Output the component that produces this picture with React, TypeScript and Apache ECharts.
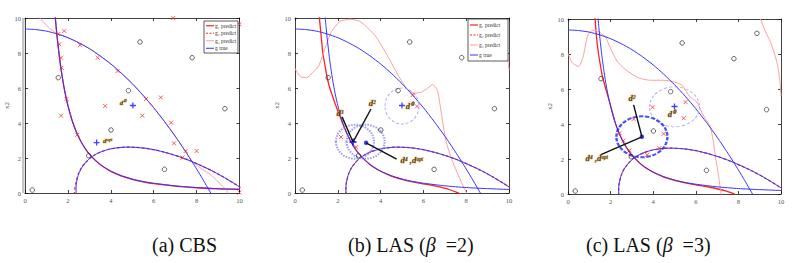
import React, { useEffect, useRef } from "react";
import * as echarts from "echarts";

const legendNames = ["g\u2081 predict", "g\u2082 predict", "g\u2083 predict", "g true"];
// caption pieces: [before β, β, after β]
const captionParts = [["(a) CBS", "", ""], ["(b) LAS (", "β", "  =2)"], ["(c) LAS (", "β", "  =3)"]];

// true constraint boundaries (blue)
const g1True = [[1.41,10.06],[1.45,9.51],[1.5,8.89],[1.6,7.81],[1.7,6.92],[1.8,6.17],[1.9,5.54],[2,5],[2.2,4.13],[2.4,3.47],[2.6,2.96],[2.8,2.55],[3,2.22],[3.3,1.84],[3.6,1.54],[4,1.25],[4.5,0.99],[5,0.8],[5.5,0.66],[6,0.56],[7,0.41],[8,0.31],[9,0.25],[10,0.2]];
const g2True = [[2.39,-0.1],[2.38,0.05],[2.38,0.31],[2.39,0.51],[2.42,0.71],[2.5,1.08],[2.63,1.42],[2.81,1.72],[3.02,1.98],[3.28,2.2],[3.58,2.37],[3.92,2.5],[4.29,2.58],[4.69,2.62],[5.13,2.61],[5.58,2.56],[6.07,2.46],[6.56,2.31],[7.08,2.12],[7.6,1.89],[8.13,1.61],[8.67,1.3],[9.2,0.95],[9.73,0.56],[10.04,0.32]];
const g3True = [[0,9.375],[0.5,9.34],[1,9.25],[1.5,9.09],[2,8.875],[2.5,8.59],[3,8.25],[3.5,7.84],[4,7.375],[4.5,6.84],[5,6.25],[5.5,5.59],[6,4.875],[6.5,4.09],[7,3.25],[7.5,2.34],[8,1.375],[8.3,0.76],[8.5,0.34],[8.66,0],[8.7,-0.09]];

// (a) CBS predictions
const g1PredA = [[1.41,10.06],[1.45,9.51],[1.5,8.89],[1.6,7.81],[1.7,6.92],[1.8,6.17],[1.9,5.54],[2,5],[2.2,4.13],[2.4,3.47],[2.6,2.96],[2.8,2.55],[3,2.22],[3.3,1.84],[3.6,1.54],[4,1.24],[4.5,0.97],[5,0.78],[5.5,0.64],[6,0.53],[7,0.39],[8,0.3],[9,0.24],[10,0.22]];
const g2PredA = [[2.31,-0.1],[2.31,0.05],[2.33,0.31],[2.36,0.51],[2.4,0.71],[2.48,1.08],[2.62,1.42],[2.81,1.72],[3.02,1.98],[3.28,2.2],[3.58,2.37],[3.92,2.5],[4.29,2.58],[4.69,2.62],[5.13,2.61],[5.58,2.56],[6.07,2.46],[6.56,2.31],[7.08,2.12],[7.6,1.89],[8.13,1.61],[8.67,1.3],[9.2,0.95],[9.73,0.56],[10.04,0.32]];
const g3PredA = [[0.6,10.1],[0.8,9.85],[1,9.6],[1.2,9.35],[1.5,9.12],[2,8.88],[2.5,8.59],[3,8.25],[3.5,7.84],[4,7.375],[4.5,6.84],[5,6.25],[5.5,5.59],[6,4.875],[6.5,4.09],[7,3.25],[7.5,2.34],[7.8,1.8],[8.1,1.5],[8.4,1.25],[8.7,1.0],[8.95,0.7],[9.2,0.4],[9.4,0.15],[9.5,-0.05]];

// (b) LAS beta=2 predictions
const g1PredB = [[1.12,10.2],[1.14,10],[1.22,9],[1.3,8],[1.4,7.3],[1.48,6.74],[1.6,6.1],[1.75,5.55],[1.87,5.12],[2.0,4.7],[2.2,4.05],[2.4,3.47],[2.6,2.96],[2.8,2.55],[3,2.22],[3.5,1.63],[4,1.24],[4.5,0.97],[5,0.78],[5.5,0.63],[6,0.52],[6.4,0.44],[6.8,0.33],[7.2,0.2],[7.6,0.02],[7.7,-0.05]];
const g2PredB = [[2.38,-0.1],[2.38,0.05],[2.38,0.31],[2.39,0.51],[2.42,0.71],[2.5,1.08],[2.63,1.42],[2.81,1.72],[3.02,1.98],[3.28,2.2],[3.58,2.37],[3.92,2.5],[4.29,2.58],[4.69,2.62],[5.13,2.61],[5.58,2.56],[6.07,2.46],[6.56,2.31],[7.08,2.12],[7.6,1.89],[8.13,1.61],[8.67,1.3],[9.2,0.95],[9.73,0.56],[10.04,0.32]];
const g3PredB = [[0,7.12],[0.15,6.8],[0.31,6.62],[0.55,6.6],[0.8,6.85],[1.09,7.22],[1.4,8.26],[1.71,9.23],[2.1,9.8],[2.57,9.93],[3.04,9.8],[3.74,9.0],[4.36,7.76],[4.83,6.71],[5.22,5.96],[5.53,5.7],[5.9,5.76],[6.2,6.0],[6.43,6.2],[6.66,5.84],[6.82,4.7],[7.05,3.0],[7.3,2.0],[7.6,1.1],[7.8,0.55],[8.02,0],[8.06,-0.1]];
const g3PredB2 = [[9.88,8.2],[9.95,7.6],[10,7.0]];

// (c) LAS beta=3 predictions
const g1PredC = [[1.24,10.2],[1.27,10],[1.32,9.2],[1.4,8.3],[1.5,7.5],[1.62,6.7],[1.8,5.9],[2,5.05],[2.2,4.15],[2.4,3.47],[2.6,2.96],[2.8,2.55],[3,2.22],[3.5,1.63],[4,1.24],[4.5,0.97],[5,0.78],[5.5,0.64],[6,0.52],[6.6,0.4],[7,0.3],[7.4,0.18],[7.78,0.02],[7.85,-0.05]];
const g2PredC = [[2.38,-0.1],[2.38,0.05],[2.38,0.31],[2.39,0.51],[2.42,0.71],[2.5,1.08],[2.63,1.42],[2.81,1.72],[3.02,1.98],[3.28,2.2],[3.58,2.37],[3.92,2.5],[4.29,2.58],[4.69,2.62],[5.13,2.61],[5.58,2.56],[6.07,2.46],[6.56,2.31],[7.08,2.12],[7.6,1.89],[8.13,1.61],[8.67,1.3],[9.2,0.95],[9.73,0.56],[10.04,0.32]];
const g3PredC = [[0,8.04],[0.2,7.5],[0.5,7.28],[0.7,7.8],[0.93,9.08],[1.15,9.35],[1.36,9.33],[1.76,8.97],[1.99,8.33],[2.3,7.6],[2.61,7.2],[3.0,6.85],[3.4,6.6],[3.87,6.5],[4.49,6.5],[5.0,6.4],[5.36,6.2],[5.74,5.53],[6.06,5.25],[6.3,4.6],[6.5,4.2],[6.68,3.86],[6.81,3.1],[6.92,2.16],[7.07,1.02],[7.18,0.07],[7.2,-0.1]];
const g3PredC2 = [[8.95,10.2],[9.03,10],[9.3,9.2],[9.5,8.7],[9.7,8.0],[9.85,7.3],[9.95,6.4],[10,5.6]];

// sampled points
const initialPoints = [[0.34,0.17],[1.55,6.59],[5.36,8.63],[7.79,7.73],[9.32,4.82],[4.82,5.85],[4.01,3.6],[2.97,2.13],[6.5,1.35]];
const extraPointC = [[8.87,9.18]];
const redA = [[6.91,10],[10,9.64],[1.83,9.26],[1.55,9.08],[1.6,8.5],[2.56,8.45],[1.68,7.73],[3.39,7.73],[1.71,7.16],[4.32,6.97],[1.94,5.37],[5.64,5.37],[6.33,5.46],[3.74,4.97],[1.68,4.42],[5.47,4.42],[6.81,4.02],[2.44,3.33],[6.95,2.84],[7.49,2.4],[8.0,2.4],[7.34,2.02],[10,0.03]];
const redB = [[2.15,3.2],[5.5,5.6],[5.7,4.95],[2.85,2.62]];
const redC = [[3.97,4.96],[5.52,5.25],[5.43,4.33],[3.08,4.28],[2.42,3.48],[2.89,2.49],[3.71,2.24],[4.29,2.62],[4.49,3.44],[2.6,3.05]];
const plusA = [[5.03,5.0],[3.34,2.88]];
const plusB = [[5.0,5.0]];
const plusBoldB = [[2.71,2.91]];
const plusC = [[5.0,5.0]];
const dotB = [[3.32,2.87]];
const dotC = [[3.47,3.27]];

// search-region centres
const regionLightB = [[5.0,4.97]];
const regionDotB = [[2.8,2.93],[3.3,2.93]];
const regionLightC = [[5.0,4.98]];
const regionDarkC = [[3.47,3.27]];

// leader lines
const leadersB = [[[2.2,4.35],[2.71,2.91]],[[3.55,4.8],[2.71,2.91]],[[3.32,2.87],[4.75,1.94]]];
const leadersC = [[[3.47,3.27],[3.08,5.09]],[[3.47,3.27],[1.52,2.24]]];

// labels
const labelsA = [{ name: "d\u2070", value: [4.55,5.12] }, { name: "d\u1d52\u1d56\u1d57", value: [3.85,2.95] }];
const labelsB = [{ name: "d\u00b3", value: [2.1,4.6] }, { name: "d\u00b2", value: [3.6,5.12] }, { name: "d\u2070", value: [5.35,4.97] }, { name: "d\u2074 ,d\u1d52\u1d56\u1d57", value: [5.45,1.9] }];
const labelsC = [{ name: "d\u00b2", value: [3.0,5.5] }, { name: "d\u2070", value: [4.85,4.6] }, { name: "d\u2074 ,d\u1d52\u1d56\u1d57", value: [1.35,2.05] }];

const X_SYM = "path://M0,0L10,10M10,0L0,10";
const PLUS_SYM = "path://M5,0L5,10M0,5L10,5";
const ELL_SYM = "path://M0,50A50,50,0,1,1,100,50A50,50,0,1,1,0,50Z";

const SERIF = "Liberation Serif";
const RED = "#ff1f1f";
const PINK = "#ff9d9d";
const BLUE = "#3434ff";

const grids = [
  { left: 25, top: 18, width: 214.5, height: 175 },
  { left: 295, top: 18, width: 214, height: 175 },
  { left: 568, top: 19, width: 213, height: 175 },
];
const nameGaps = [5, 11, 11];
const legendBoxes = [
  { x: 204, y: 21, w: 34, h: 32 },
  { x: 468, y: 19, w: 40, h: 42 },
];
const legendStyles: any[] = [
  { stroke: RED, lineWidth: 1.2 },
  { stroke: RED, lineWidth: 1.2, lineDash: [2, 1.5] },
  { stroke: PINK, lineWidth: 1 },
  { stroke: BLUE, lineWidth: 1 },
];
const captionStarts = [152, 348, 586];

function line(name: string, data: number[][], gi: number, color: string, width: number, type: any = "solid", z = 2): any {
  return {
    type: "line", name, data, xAxisIndex: gi * 2, yAxisIndex: gi * 2,
    symbol: "none", showSymbol: false, smooth: 0.2, clip: true, silent: true, z,
    lineStyle: { color, width, type }, itemStyle: { color },
  };
}
function scatter(data: any[], gi: number, symbol: string, size: any, style: any, z = 5): any {
  return {
    type: "scatter", data, xAxisIndex: gi * 2, yAxisIndex: gi * 2, symbol, symbolSize: size,
    silent: true, z, itemStyle: style, clip: false,
  };
}
function labels(data: any[], gi: number, fs: number): any {
  return {
    type: "scatter", data, xAxisIndex: gi * 2, yAxisIndex: gi * 2, symbol: "circle", symbolSize: 1,
    silent: true, z: 8, itemStyle: { color: "transparent" },
    label: {
      show: true, position: "inside", formatter: "{b}", fontSize: fs, fontFamily: SERIF,
      fontStyle: "italic", fontWeight: "bold", color: "#151515",
      textBorderColor: "rgba(235,165,40,0.75)", textBorderWidth: 1,
    },
  };
}

export default function App() {
  const ref = useRef<HTMLDivElement>(null);
  useEffect(() => {
    const chart = echarts.init(ref.current!, null, { renderer: "svg" });
    const axisLine = { show: true, onZero: false, lineStyle: { color: "#111", width: 0.8 } };
    const axisTick = { show: true, inside: true, length: 3, lineStyle: { color: "#111", width: 0.8 } };
    const xAxis: any[] = [];
    const yAxis: any[] = [];
    grids.forEach((g, i) => {
      xAxis.push({ gridIndex: i, type: "value", min: 0, max: 10, interval: 2, position: "bottom", axisLine, axisTick,
        axisLabel: { fontSize: 6.5, color: "#555", margin: 4, fontFamily: SERIF }, splitLine: { show: false } });
      xAxis.push({ gridIndex: i, type: "value", min: 0, max: 10, interval: 2, position: "top", axisLine, axisTick,
        axisLabel: { show: false }, splitLine: { show: false } });
      yAxis.push({ gridIndex: i, type: "value", min: 0, max: 10, interval: 2, position: "left", axisLine, axisTick,
        name: "x2", nameLocation: "middle", nameGap: nameGaps[i],
        nameTextStyle: { fontSize: 7, color: "#555", fontFamily: SERIF },
        axisLabel: { fontSize: 6.5, color: "#555", margin: 4, fontFamily: SERIF }, splitLine: { show: false } });
      yAxis.push({ gridIndex: i, type: "value", min: 0, max: 10, interval: 2, position: "right", axisLine, axisTick,
        axisLabel: { show: false }, splitLine: { show: false } });
    });

    const circleStyle = { color: "transparent", borderColor: "#2a2a2a", borderWidth: 0.9 };
    const xStyle = { color: "transparent", borderColor: RED, borderWidth: 0.9 };
    const plusStyle = { color: "transparent", borderColor: "#1010ff", borderWidth: 1.3 };

    const series: any[] = [
      // panel a
      line(legendNames[0], g1PredA, 0, RED, 1.3),
      line(legendNames[1], g2PredA, 0, RED, 1.2, [3, 2]),
      line(legendNames[2], g3PredA, 0, PINK, 1),
      line(legendNames[3], g1True, 0, BLUE, 1, "solid", 3),
      line(legendNames[3], g2True, 0, BLUE, 1, "solid", 3),
      line(legendNames[3], g3True, 0, BLUE, 1, "solid", 3),
      scatter(initialPoints, 0, "circle", 4.5, circleStyle),
      scatter(redA, 0, X_SYM, 4, xStyle),
      scatter(plusA, 0, PLUS_SYM, 6, plusStyle),
      labels(labelsA, 0, 7),
      // panel b
      line(legendNames[0], g1PredB, 1, RED, 1.3),
      line(legendNames[1], g2PredB, 1, RED, 1.2, [3, 2]),
      line(legendNames[2], g3PredB, 1, PINK, 1),
      line(legendNames[2], g3PredB2, 1, PINK, 1),
      line(legendNames[3], g1True, 1, BLUE, 1, "solid", 3),
      line(legendNames[3], g2True, 1, BLUE, 1, "solid", 3),
      line(legendNames[3], g3True, 1, BLUE, 1, "solid", 3),
      scatter(regionLightB, 1, ELL_SYM, [34, 36], { color: "transparent", borderColor: "#9a9af2", borderWidth: 1, borderType: [3, 2] }, 4),
      scatter(regionDotB, 1, ELL_SYM, [38, 34], { color: "transparent", borderColor: "#8484ee", borderWidth: 2, borderType: [1.5, 1.2] }, 4),
      scatter(initialPoints, 1, "circle", 4.5, circleStyle),
      scatter(redB, 1, X_SYM, 4, xStyle),
      scatter(plusB, 1, PLUS_SYM, 6, plusStyle),
      scatter(plusBoldB, 1, PLUS_SYM, 7, { color: "transparent", borderColor: "#1010ff", borderWidth: 2 }),
      scatter(dotB, 1, "circle", 4.5, { color: "#1010ff" }),
      ...leadersB.map((d) => line("", d, 1, "#111", 1.4, "solid", 6)),
      labels(labelsB, 1, 8.5),
      // panel c
      line(legendNames[0], g1PredC, 2, RED, 1.3),
      line(legendNames[1], g2PredC, 2, RED, 1.2, [3, 2]),
      line(legendNames[2], g3PredC, 2, PINK, 1),
      line(legendNames[2], g3PredC2, 2, PINK, 1),
      line(legendNames[3], g1True, 2, BLUE, 1, "solid", 3),
      line(legendNames[3], g2True, 2, BLUE, 1, "solid", 3),
      line(legendNames[3], g3True, 2, BLUE, 1, "solid", 3),
      scatter(regionLightC, 2, ELL_SYM, [50, 40], { color: "transparent", borderColor: "#9c9cf2", borderWidth: 1, borderType: [3, 2] }, 4),
      scatter(regionDarkC, 2, ELL_SYM, [51, 41], { color: "transparent", borderColor: "#1b2be6", borderWidth: 2.2, borderType: [4, 1.5] }, 4),
      scatter(initialPoints.concat(extraPointC), 2, "circle", 4.5, circleStyle),
      scatter(redC, 2, X_SYM, 4, xStyle),
      scatter(plusC, 2, PLUS_SYM, 6, plusStyle),
      scatter(dotC, 2, "circle", 4.5, { color: "#1010ff" }),
      ...leadersC.map((d) => line("", d, 2, "#111", 1.4, "solid", 6)),
      labels(labelsC, 2, 8.5),
    ];

    const legendGraphics: any[] = [];
    legendBoxes.forEach((b) => {
      legendGraphics.push({ type: "rect", z: 100, silent: true, shape: { x: b.x, y: b.y, width: b.w, height: b.h },
        style: { fill: "#fff", stroke: "#333", lineWidth: 0.8 } });
      const row = (b.h - 2) / 4;
      legendNames.forEach((n, k) => {
        const cy = b.y + 1 + row * (k + 0.5);
        legendGraphics.push({ type: "line", z: 101, silent: true, shape: { x1: b.x + 2, y1: cy, x2: b.x + 10, y2: cy },
          style: legendStyles[k] });
        legendGraphics.push({ type: "text", z: 101, silent: true, x: b.x + 11, y: cy - 3,
          style: { text: n, fontSize: 5.5, fontFamily: SERIF, fill: "#333" } });
      });
    });

    const captionGraphics: any[] = [];
    captionParts.forEach((parts, i) => {
      const x0 = captionStarts[i];
      const w0 = echarts.format.getTextRect ? 0 : 0;
      const font = "20px " + SERIF;
      const measure = (s: string, italic = false) => {
        const c = document.createElement("canvas").getContext("2d")!;
        c.font = (italic ? "italic " : "") + "20px 'Liberation Serif'";
        return c.measureText(s).width;
      };
      let x = x0 + w0;
      parts.forEach((p, k) => {
        if (!p) return;
        captionGraphics.push({ type: "text", x, y: 235, silent: true,
          style: { text: p, fontSize: 20, fontFamily: SERIF, fontStyle: k === 1 ? "italic" : "normal", fill: "#111" } });
        x += measure(p, k === 1);
      });
      void font;
    });

    const graphic: any[] = [
      { type: "rect", shape: { x: 22, y: 18, width: 2.5, height: 175 }, style: { fill: "#c4c4c4" }, silent: true },
      ...legendGraphics,
      ...captionGraphics,
    ];

    chart.setOption({
      animation: false,
      backgroundColor: "#fff",
      grid: grids,
      xAxis, yAxis, series, graphic,
    });
    return () => chart.dispose();
  }, []);
  return <div ref={ref} style={{ position: "fixed", left: 0, top: 0, width: 796, height: 263, background: "#fff" }} />;
}
